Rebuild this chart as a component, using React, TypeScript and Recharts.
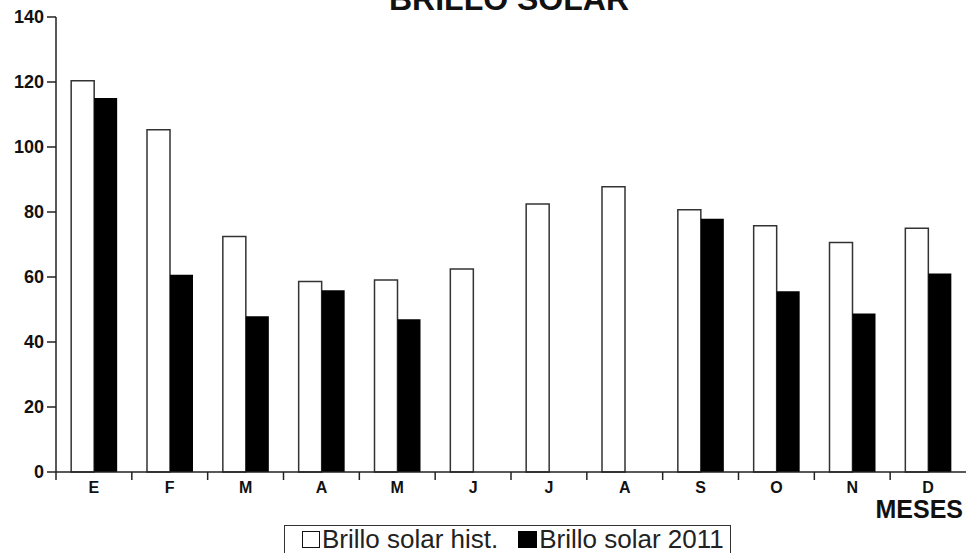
import React from 'react';
import { BarChart, Bar, XAxis, YAxis, Label } from 'recharts';

const MONTHS = ['E', 'F', 'M', 'A', 'M', 'J', 'J', 'A', 'S', 'O', 'N', 'D'];
const HIST = [120.4, 105.3, 72.5, 58.6, 59.1, 62.5, 82.5, 87.8, 80.7, 75.8, 70.6, 75.0];
const Y2011 = [115.1, 60.7, 47.9, 55.9, 47.0, null, null, null, 77.9, 55.6, 48.8, 61.1];
const Y_TICKS = [0, 20, 40, 60, 80, 100, 120, 140];

const FONT = '"Liberation Sans", Arial, sans-serif';

const data = MONTHS.map((mes, i) => ({ mes, hist: HIST[i], y2011: Y2011[i] }));

// month label centred in the band, tick mark on the left band edge
const MonthTick = (props: any) => {
  const { x, y, payload, width, visibleTicksCount } = props;
  const half = width / visibleTicksCount / 2;
  return (
    <g>
      <line x1={x - half} x2={x - half} y1={y - 10} y2={y - 2} stroke="#222" strokeWidth={1.5} />
      <text x={x} y={y} dy="0.71em" textAnchor="middle" fontSize={16} fontWeight="bold" fill="#111" fontFamily={FONT}>
        {payload.value}
      </text>
    </g>
  );
};

const App: React.FC = () => {
  return (
    <div style={{ position: 'absolute', left: 0, top: 0, width: 966, height: 553, background: '#fff', overflow: 'hidden', fontFamily: FONT }}>
      <BarChart
        width={966}
        height={553}
        data={data}
        margin={{ top: 17, right: 0, left: 0, bottom: 32 }}
        barCategoryGap="20%"
        barGap={0}
      >
        <text x={509} y={10} textAnchor="middle" fontSize={32} fontWeight="bold" fill="#111" fontFamily={FONT}>
          BRILLO SOLAR
        </text>
        <XAxis
          dataKey="mes"
          interval={0}
          height={49}
          tickLine={false}
          tickSize={8}
          tickMargin={2}
          tick={<MonthTick />}
          axisLine={{ stroke: '#222', strokeWidth: 1.5 }}
        >
          <Label value="MESES" position="insideBottomRight" offset={3} fontSize={25} fontWeight="bold" fill="#111" fontFamily={FONT} />
        </XAxis>
        <YAxis
          width={56}
          domain={[0, 140]}
          ticks={Y_TICKS}
          interval={0}
          tickSize={9}
          tickMargin={3}
          axisLine={{ stroke: '#222', strokeWidth: 1.5 }}
          tickLine={{ stroke: '#222', strokeWidth: 1.5 }}
          tick={{ fontSize: 18, fontWeight: 'bold', fill: '#111', fontFamily: FONT }}
        />
        <Bar dataKey="hist" fill="#fff" stroke="#333" strokeWidth={1.5} isAnimationActive={false} />
        <Bar dataKey="y2011" fill="#000" isAnimationActive={false} />
      </BarChart>
      <div
        style={{
          position: 'absolute',
          left: 284,
          top: 525,
          width: 447,
          height: 40,
          border: '1px solid #333',
          paddingLeft: 17,
          boxSizing: 'border-box',
          fontSize: 26,
          lineHeight: '26px',
          color: '#222',
          whiteSpace: 'nowrap',
          overflow: 'visible',
        }}
      >
        <div style={{ display: 'flex', alignItems: 'center', height: 26, whiteSpace: 'nowrap' }}>
          <span style={{ flexShrink: 0, width: 18, height: 17, border: '1.5px solid #111', boxSizing: 'border-box', display: 'inline-block' }} />
          <span style={{ flexShrink: 0, marginLeft: 2 }}>Brillo solar hist.</span>
          <span style={{ flexShrink: 0, width: 19, height: 17, background: '#000', display: 'inline-block', marginLeft: 20 }} />
          <span style={{ flexShrink: 0, marginLeft: 2 }}>Brillo solar 2011</span>
        </div>
      </div>
    </div>
  );
};

export default App;
